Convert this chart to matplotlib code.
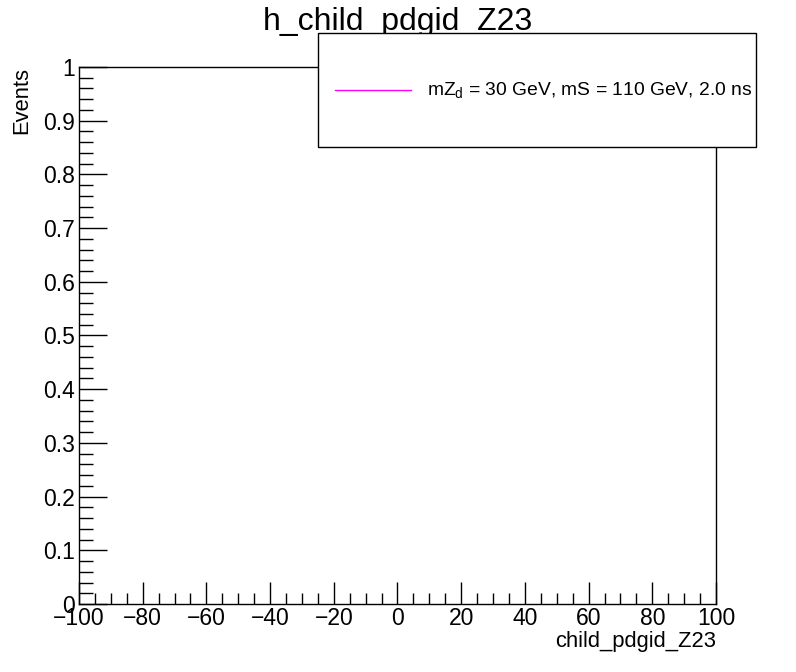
import numpy as np
import matplotlib
matplotlib.use('Agg')
import matplotlib.pyplot as plt
from matplotlib.ticker import MultipleLocator

plt.rcParams['font.family'] = ['Liberation Sans', 'DejaVu Sans']
plt.rcParams['mathtext.fontset'] = 'custom'
plt.rcParams['mathtext.rm'] = 'Liberation Sans'
plt.rcParams['mathtext.it'] = 'Liberation Sans'

# histogramm leer (keine Einträge)
title = 'h_child_pdgid_Z23'
x_label = 'child_pdgid_Z23'
y_label = 'Events'
x_range = [-100, 100]
y_range = [0, 1]
pdgid_values = []
pdgid_counts = []
legend_label = r'mZ$_{\mathregular{d}}$ = 30 GeV, mS = 110 GeV, 2.0 ns'

fig = plt.figure(figsize=(7.96, 6.72), dpi=100)
ax = fig.add_axes([0.0992, 0.1012, 0.8003, 0.7991])

line, = ax.plot(pdgid_values, pdgid_counts, color='#ff00ff', lw=1, drawstyle='steps-mid')

ax.set_xlim(x_range)
ax.set_ylim(y_range)
ax.xaxis.set_major_locator(MultipleLocator(20))
ax.xaxis.set_minor_locator(MultipleLocator(5))
ax.yaxis.set_major_locator(MultipleLocator(0.1))
ax.yaxis.set_minor_locator(MultipleLocator(0.02))
ax.yaxis.set_major_formatter(plt.FuncFormatter(lambda v, p: '%g' % round(v, 2)))
ax.xaxis.set_major_formatter(plt.FuncFormatter(lambda v, p: ('%g' % v).replace('-', '\u2212')))

ax.tick_params(which='both', direction='in', top=False, right=False, labelsize=16.5, width=1)
ax.tick_params(axis='x', which='major', length=16, pad=2)
ax.tick_params(axis='x', which='minor', length=8)
ax.tick_params(axis='y', which='major', length=20, pad=3)
ax.tick_params(axis='y', which='minor', length=10)
for s in ax.spines.values():
    s.set_linewidth(1)

ax.set_xlabel(x_label, fontsize=15.8, loc='right', labelpad=1)
ax.set_ylabel(y_label, fontsize=15.8, loc='top', labelpad=8)

fig.text(0.5, 0.968, title, ha='center', va='center', fontsize=23)

# Legende
lx0, ly0, lx1, ly1 = 318 / 796, 1 - 147 / 672, 756 / 796, 1 - 33 / 672
box = plt.Rectangle((lx0, ly0), lx1 - lx0, ly1 - ly0, transform=fig.transFigure,
                    facecolor='white', edgecolor='black', lw=1, zorder=10)
fig.add_artist(box)
ly = 1 - 90 / 672
fig.add_artist(plt.Line2D([335 / 796, 411 / 796], [ly, ly], transform=fig.transFigure,
                          color=line.get_color(), lw=1, zorder=11))
fig.text(427 / 796, ly, legend_label, fontsize=13.9, va='center', ha='left', zorder=12)

fig.savefig('out.png', dpi=100)
